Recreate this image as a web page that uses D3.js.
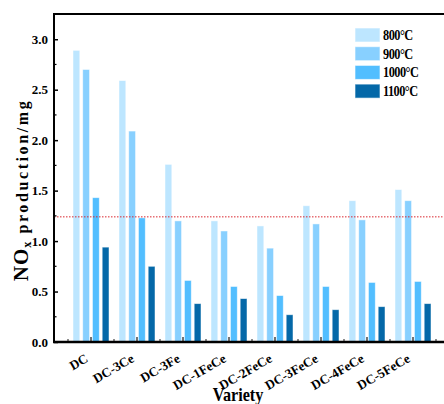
<!DOCTYPE html>
<html>
<head>
<meta charset="utf-8">
<script src="https://cdn.jsdelivr.net/npm/d3@7"></script>
<style>
	body { margin: 0; background: #fff; }
	svg { display: block; }
	text { font-family: "Liberation Serif", "Times New Roman", serif; font-weight: bold; fill: #000; }
</style>
</head>
<body>
<svg id="chart_svg"></svg>
<script>
const categories = ['DC', 'DC-3Ce', 'DC-3Fe', 'DC-1FeCe', 'DC-2FeCe', 'DC-3FeCe', 'DC-4FeCe', 'DC-5FeCe']
const series = ['800°C', '900°C', '1000°C', '1100°C']
const values800 = [2.89, 2.59, 1.76, 1.20, 1.15, 1.35, 1.40, 1.51]
const values900 = [2.70, 2.09, 1.20, 1.10, 0.93, 1.17, 1.21, 1.40]
const values1000 = [1.43, 1.23, 0.61, 0.55, 0.46, 0.55, 0.59, 0.60]
const values1100 = [0.94, 0.75, 0.38, 0.43, 0.27, 0.32, 0.35, 0.38]
const yTicks = [0, 0.5, 1.0, 1.5, 2.0, 2.5, 3.0]
const refLine = 1.24
const colors = ['#bde6ff', '#88d0ff', '#52beff', '#0468a8']

const width = 444, height = 404
const plot = { left: 54, right: 450, top: 14, bottom: 342 }

const svg = d3.select("#chart_svg")
	.attr("width", width)
	.attr("height", height)

// scales
const y = d3.scaleLinear()
	.domain([0, 3.25])
	.range([plot.bottom, plot.top])

const x0 = d3.scaleBand()
	.domain(categories)
	.range([plot.left + 14, plot.right - 14])
	.padding(0)

const x1 = d3.scaleBand()
	.domain(series)
	.range([5, x0.bandwidth() - 5])
	.paddingInner(0.3)
	.paddingOuter(0)

const allValues = [values800, values900, values1000, values1100]
const rows = []
categories.forEach((c, i) => {
	series.forEach((s, j) => {
		rows.push({ cat: c, ser: s, val: allValues[j][i], color: colors[j] })
	})
})

// bars
svg.append("g")
	.selectAll("rect")
	.data(rows)
	.join("rect")
	.attr("x", d => x0(d.cat) + x1(d.ser))
	.attr("y", d => y(d.val))
	.attr("width", x1.bandwidth())
	.attr("height", d => y(0) - y(d.val))
	.attr("fill", d => d.color)
	.attr("stroke", "#ffffff")
	.attr("stroke-opacity", 0.6)
	.attr("stroke-width", 0.8)

// reference line
svg.append("line")
	.attr("x1", plot.left)
	.attr("x2", width)
	.attr("y1", y(refLine))
	.attr("y2", y(refLine))
	.attr("stroke", "#d9272e")
	.attr("stroke-width", 1)
	.attr("stroke-dasharray", "1.5,1.5")

// y axis, ticks point inward
const yAxis = svg.append("g")
	.attr("transform", `translate(${plot.left},0)`)
	.call(d3.axisLeft(y).tickValues(yTicks).tickFormat(d3.format(".1f")).tickSizeInner(-4).tickSizeOuter(0).tickPadding(6))
yAxis.select(".domain").remove()
yAxis.selectAll("line").attr("stroke-width", 1.5)
yAxis.selectAll("text").style("font-size", "13px")

// minor y ticks
svg.append("g")
	.selectAll("line")
	.data(d3.range(0.25, 3.25, 0.5))
	.join("line")
	.attr("x1", plot.left)
	.attr("x2", plot.left + 2.5)
	.attr("y1", d => y(d))
	.attr("y2", d => y(d))
	.attr("stroke", "#000")
	.attr("stroke-width", 1.2)

// x axis ticks (inward)
svg.append("g")
	.selectAll("line")
	.data(categories)
	.join("line")
	.attr("x1", d => x0(d) + x0.bandwidth() / 2)
	.attr("x2", d => x0(d) + x0.bandwidth() / 2)
	.attr("y1", plot.bottom)
	.attr("y2", plot.bottom - 5)
	.attr("stroke", "#444")
	.attr("stroke-width", 1.5)

svg.append("g")
	.selectAll("line")
	.data(categories.concat(['end']))
	.join("line")
	.attr("x1", (d, i) => x0.range()[0] + i * x0.step())
	.attr("x2", (d, i) => x0.range()[0] + i * x0.step())
	.attr("y1", plot.bottom)
	.attr("y2", plot.bottom - 3)
	.attr("stroke", "#444")
	.attr("stroke-width", 1.2)

// x tick labels, rotated
svg.append("g")
	.selectAll("text")
	.data(categories)
	.join("text")
	.attr("transform", d => `translate(${x0(d) + x0.bandwidth() / 2 - 2},${plot.bottom + 19}) rotate(-30)`)
	.attr("text-anchor", "end")
	.style("font-size", "13px")
	.text(d => d)

// frame lines
svg.append("line")
	.attr("x1", plot.left).attr("x2", width + 10)
	.attr("y1", plot.top).attr("y2", plot.top)
	.attr("stroke", "#000").attr("stroke-width", 2)
svg.append("line")
	.attr("x1", plot.left).attr("x2", plot.left)
	.attr("y1", plot.top - 1).attr("y2", plot.bottom + 1)
	.attr("stroke", "#000").attr("stroke-width", 2)
svg.append("line")
	.attr("x1", plot.left - 1).attr("x2", width + 10)
	.attr("y1", plot.bottom).attr("y2", plot.bottom)
	.attr("stroke", "#000").attr("stroke-width", 2.5)

// axis titles
const yTitle = svg.append("text")
	.attr("transform", `translate(28,${(plot.top + plot.bottom) / 2 + 12}) rotate(-90)`)
	.attr("text-anchor", "middle")
	.style("font-size", "16px")
	.style("letter-spacing", "2.6px")
yTitle.append("tspan").style("font-size", "21px").style("letter-spacing", "1px").text("NO")
yTitle.append("tspan").style("font-size", "12px").attr("dy", 3).text("x ")
yTitle.append("tspan").attr("dy", -3).text("production/mg")

svg.append("text")
	.attr("transform", "translate(238,401) scale(0.9,1)")
	.attr("text-anchor", "middle")
	.style("font-size", "18px")
	.text("Variety")

// legend
const legend = svg.append("g")
	.selectAll("g")
	.data(series)
	.join("g")
	.attr("transform", (d, i) => `translate(355,${28 + i * 18.7})`)

legend.append("rect")
	.attr("width", 25)
	.attr("height", 14)
	.attr("fill", (d, i) => colors[i])
	.attr("stroke", "#ffffff")
	.attr("stroke-opacity", 0.6)

legend.append("text")
	.attr("transform", "translate(28,12) scale(0.88,1)")
	.style("font-size", "14px")
	.style("letter-spacing", "-0.6px")
	.text(d => d)
</script>
</body>
</html>
